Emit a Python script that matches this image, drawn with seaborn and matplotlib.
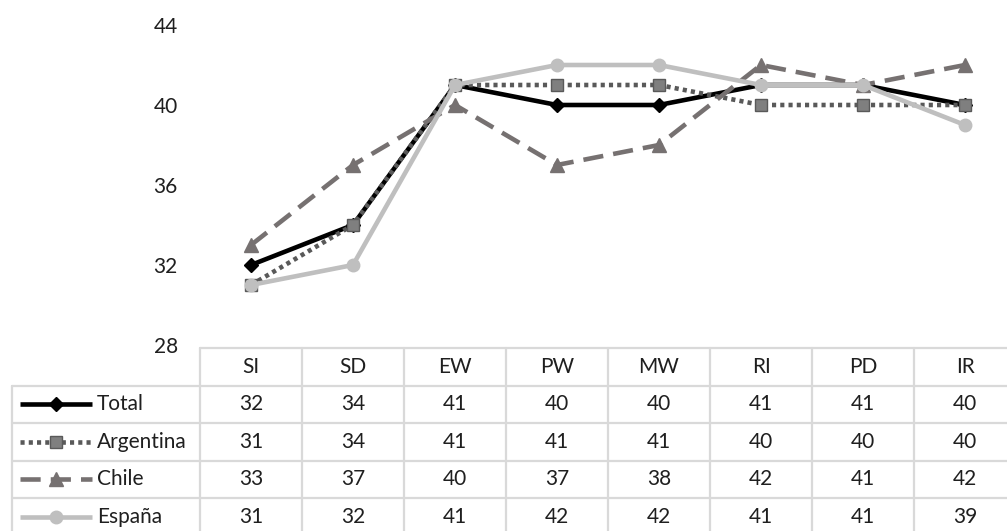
import matplotlib
matplotlib.use("Agg")
import matplotlib.pyplot as plt
import seaborn as sns
import pandas as pd

# data
categories = ["SI", "SD", "EW", "PW", "MW", "RI", "PD", "IR"]
total = [32, 34, 41, 40, 40, 41, 41, 40]
argentina = [31, 34, 41, 41, 41, 40, 40, 40]
chile = [33, 37, 40, 37, 38, 42, 41, 42]
espana = [31, 32, 41, 42, 42, 41, 41, 39]
series_names = ["Total", "Argentina", "Chile", "España"]
yticks = [28, 32, 36, 40, 44]

sns.set_theme(style="white")
plt.rcParams["font.family"] = ["Lato", "DejaVu Sans"]

FS = 15
TXT = "#1f1f1f"
LW = 3.3

styles = {
    "Total": dict(color="#000000", ls="-", marker="D", mfc="#000000", mec="#000000", ms=7),
    "Argentina": dict(color="#595959", ls=(0, (0.9, 0.9)), marker="s", mfc="#7f7f7f", mec="#595959", ms=9),
    "Chile": dict(color="#767171", ls=(0, (4.4, 2.2)), marker="^", mfc="#767171", mec="#767171", ms=10),
    "España": dict(color="#bfbfbf", ls="-", marker="o", mfc="#bfbfbf", mec="#bfbfbf", ms=9),
}

values = {"Total": total, "Argentina": argentina, "Chile": chile, "España": espana}
df = pd.DataFrame([
    {"serie": s, "x": i, "cat": c, "valor": values[s][i]}
    for s in series_names for i, c in enumerate(categories)
])

W, H = 1007, 531
fig = plt.figure(figsize=(W / 100, H / 100), dpi=100)

# geometry in pixels
x0 = 200
colw = 102
ncol = len(categories)
y_top, y_bot = 25, 345  # 44 and 28
ax = fig.add_axes([x0 / W, (H - y_bot) / H, colw * ncol / W, (y_bot - y_top) / H])

for s in series_names:
    st = styles[s]
    sub = df[df["serie"] == s]
    sns.lineplot(data=sub, x="x", y="valor", ax=ax, color=st["color"], linewidth=LW,
                 linestyle=st["ls"], marker=st["marker"], markersize=st["ms"],
                 markerfacecolor=st["mfc"], markeredgecolor=st["mec"], markeredgewidth=1,
                 legend=False)
    ax.lines[-1].set_dash_capstyle("butt")

ax.set_xlim(-0.5, ncol - 0.5)
ax.set_ylim(28, 44)
ax.set_yticks(yticks)
ax.set_yticklabels([str(v) for v in yticks], fontsize=FS, color=TXT)
ax.tick_params(axis="y", length=0, pad=16)
ax.set_xticks([])
ax.set_xlabel("")
ax.set_ylabel("")
for sp in ax.spines.values():
    sp.set_visible(False)

# data table below the plot, drawn in pixel coordinates
tab = fig.add_axes([0, 0, 1, 1])
tab.set_xlim(0, W)
tab.set_ylim(H, 0)
tab.axis("off")
gc = "#d9d9d9"
gw = 1.6
row_h = 37.5
head_top = 348
left = 12
right = x0 + colw * ncol
n_rows = len(series_names)
# horizontal lines
tab.plot([x0, right], [head_top, head_top], color=gc, lw=gw)
for r in range(1, n_rows + 1):
    y = head_top + r * row_h
    tab.plot([left, right], [y, y], color=gc, lw=gw)
# vertical lines
tab.plot([left, left], [head_top + row_h, H + 10], color=gc, lw=gw)
for c in range(ncol + 1):
    x = x0 + c * colw
    tab.plot([x, x], [head_top, H + 10], color=gc, lw=gw)

for c, cat in enumerate(categories):
    tab.text(x0 + (c + 0.5) * colw, head_top + row_h / 2, cat, ha="center", va="center",
             fontsize=FS, color=TXT)

for r, s in enumerate(series_names):
    yc = head_top + (r + 1.5) * row_h
    st = styles[s]
    tab.plot([20, 92], [yc, yc], color=st["color"], lw=LW, linestyle=st["ls"],
             solid_capstyle="butt", dash_capstyle="butt")
    tab.plot([56], [yc], marker=st["marker"], ms=st["ms"], mfc=st["mfc"], mec=st["mec"],
             mew=1, linestyle="none")
    tab.text(97, yc, s, ha="left", va="center", fontsize=FS, color=TXT)
    for c in range(ncol):
        tab.text(x0 + (c + 0.5) * colw, yc, str(values[s][c]), ha="center", va="center",
                 fontsize=FS, color=TXT)

fig.savefig("out.png", dpi=100)
